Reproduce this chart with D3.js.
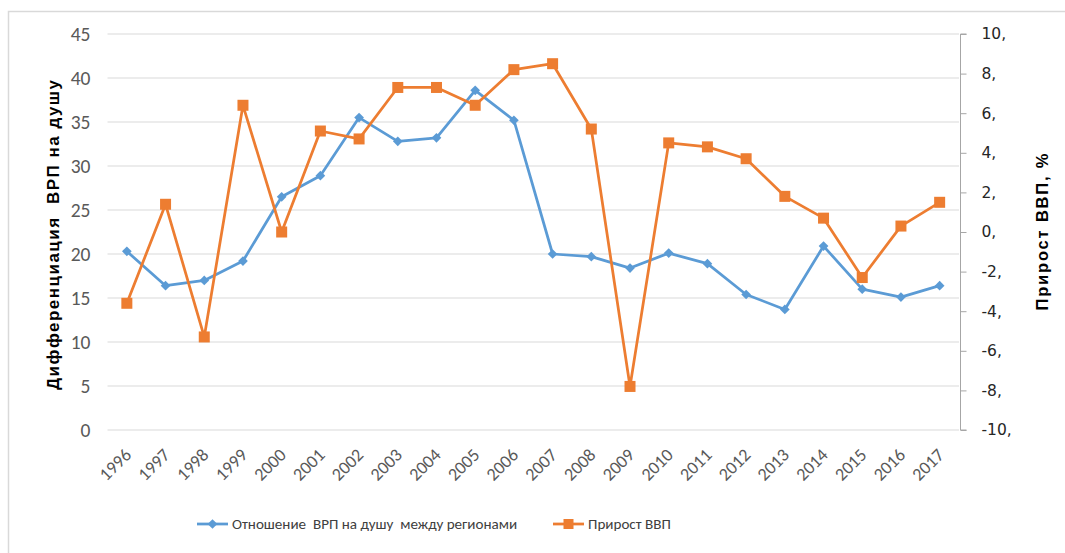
<!DOCTYPE html>
<html>
<head>
<meta charset="utf-8">
<script src="https://cdn.jsdelivr.net/npm/d3@7"></script>
<style>
  html, body { margin: 0; padding: 0; background: #fff; }
  svg { display: block; }
</style>
</head>
<body>
<svg id="chart" width="1065" height="553"></svg>
<script>
const years = ["1996","1997","1998","1999","2000","2001","2002","2003","2004","2005","2006","2007","2008","2009","2010","2011","2012","2013","2014","2015","2016","2017"];
const ratioValues = [20.3,16.4,17.0,19.2,26.5,28.9,35.5,32.8,33.2,38.6,35.2,20.0,19.7,18.4,20.1,18.9,15.4,13.7,20.9,16.0,15.1,16.4];
const gdpGrowth = [-3.6,1.4,-5.3,6.4,0.0,5.1,4.7,7.3,7.3,6.4,8.2,8.5,5.2,-7.8,4.5,4.3,3.7,1.8,0.7,-2.3,0.3,1.5];
const leftTicks = [0,5,10,15,20,25,30,35,40,45];
const rightTicks = [-10,-8,-6,-4,-2,0,2,4,6,8,10];
const seriesNames = ["Отношение  ВРП на душу  между регионами", "Прирост ВВП"];
const leftTitle = "Дифференциация  ВРП на душу";
const rightTitle = "Прирост ВВП, %";

const svg = d3.select("#chart");
const plot = {left: 107.5, right: 959, top: 34, bottom: 430};
const calib = "Carlito, Calibri, 'Liberation Sans', sans-serif";

// frame
svg.append("path").attr("d", "M8.5,553 V11.5 H1065").attr("fill","none").attr("stroke","#d9d9d9").attr("stroke-width",1.5);

const x = d3.scalePoint().domain(years).range([plot.left, plot.right]).padding(0.5);
const yL = d3.scaleLinear().domain([0,45]).range([plot.bottom, plot.top]);
const yR = d3.scaleLinear().domain([-10,10]).range([plot.bottom, plot.top]);

// gridlines
svg.append("g").selectAll("line").data(leftTicks).join("line")
  .attr("x1", plot.left).attr("x2", plot.right)
  .attr("y1", d => yL(d)).attr("y2", d => yL(d))
  .attr("stroke", "#d9d9d9").attr("stroke-width", 1);

// left axis labels
const gL = svg.append("g").attr("transform", `translate(${plot.left},0)`)
  .call(d3.axisLeft(yL).tickValues(leftTicks).tickSize(0).tickPadding(17));
gL.select(".domain").remove();
gL.selectAll("text").attr("fill","#595959").style("font-family",calib).style("font-size","19.5px");

// right axis
const gR = svg.append("g").attr("transform", `translate(${plot.right+1.5},0)`)
  .call(d3.axisRight(yR).tickValues(rightTicks).tickSize(6).tickPadding(15).tickFormat(d => d + ","));
gR.select(".domain").attr("stroke","#a6a6a6").attr("d", `M6,${plot.top}H0V${plot.bottom}H6`);
gR.selectAll(".tick line").attr("stroke","#a6a6a6");
gR.selectAll("text").attr("fill","#262626").style("font-family","'DejaVu Sans', Verdana, sans-serif").style("font-size","15.5px");

// x axis labels
const gX = svg.append("g").attr("transform", `translate(0,${plot.bottom})`)
  .call(d3.axisBottom(x).tickSize(0).tickPadding(0));
gX.select(".domain").remove();
gX.selectAll("text")
  .attr("fill","#595959")
  .style("font-family",calib)
  .style("font-size","18px")
  .attr("text-anchor","end")
  .attr("dy", null).attr("y", 0)
  .attr("transform","translate(5,26) rotate(-45)");

// lines
const blue = "#5b9bd5", orange = "#ed7d31";
const lineL = d3.line().x((d,i) => x(years[i])).y(d => yL(d));
const lineR = d3.line().x((d,i) => x(years[i])).y(d => yR(d));

svg.append("path").datum(ratioValues).attr("d", lineL)
  .attr("fill","none").attr("stroke", blue).attr("stroke-width", 2.75).attr("stroke-linejoin","round");
svg.append("path").datum(gdpGrowth).attr("d", lineR)
  .attr("fill","none").attr("stroke", orange).attr("stroke-width", 2.75).attr("stroke-linejoin","round");

const diamond = d3.symbol().type(d3.symbolDiamond2).size(60);
svg.append("g").selectAll("path").data(ratioValues).join("path")
  .attr("d", diamond)
  .attr("transform", (d,i) => `translate(${x(years[i])},${yL(d)})`)
  .attr("fill", blue);

svg.append("g").selectAll("rect").data(gdpGrowth).join("rect")
  .attr("x", (d,i) => x(years[i]) - 5.5).attr("y", d => yR(d) - 5.5)
  .attr("width", 11).attr("height", 11)
  .attr("fill", orange);

// axis titles
svg.append("text")
  .attr("transform", `translate(59,235) rotate(-90)`)
  .attr("text-anchor","middle")
  .style("font-family","'Liberation Sans', Arial, sans-serif")
  .style("font-size","17px").style("font-weight","bold").style("white-space","pre")
  .attr("textLength", 310).attr("lengthAdjust","spacing")
  .attr("fill","#000")
  .text(leftTitle);

svg.append("text")
  .attr("transform", `translate(1048,232) rotate(-90)`)
  .attr("text-anchor","middle")
  .style("font-family","'Liberation Sans', Arial, sans-serif")
  .style("font-size","16.5px").style("font-weight","bold")
  .attr("textLength", 157).attr("lengthAdjust","spacing")
  .attr("fill","#000")
  .text(rightTitle);

// legend
const legY = 524;
const leg = svg.append("g");
const legItems = [
  {name: seriesNames[0], color: blue, x1: 197, type: "diamond"},
  {name: seriesNames[1], color: orange, x1: 553, type: "square"}
];
legItems.forEach(it => {
  leg.append("line").attr("x1", it.x1).attr("x2", it.x1 + 31).attr("y1", legY).attr("y2", legY)
    .attr("stroke", it.color).attr("stroke-width", 2.75);
  if (it.type === "diamond") {
    leg.append("path").attr("d", diamond).attr("transform", `translate(${it.x1+15.5},${legY})`).attr("fill", it.color);
  } else {
    leg.append("rect").attr("x", it.x1 + 10.5).attr("y", legY - 5).attr("width", 10).attr("height", 10).attr("fill", it.color);
  }
  leg.append("text").attr("x", it.x1 + 35).attr("y", legY).attr("dy","0.35em")
    .style("font-family",calib)
    .style("font-size","15.1px").style("white-space","pre")
    .attr("fill","#404040").text(it.name);
});
</script>
</body>
</html>
